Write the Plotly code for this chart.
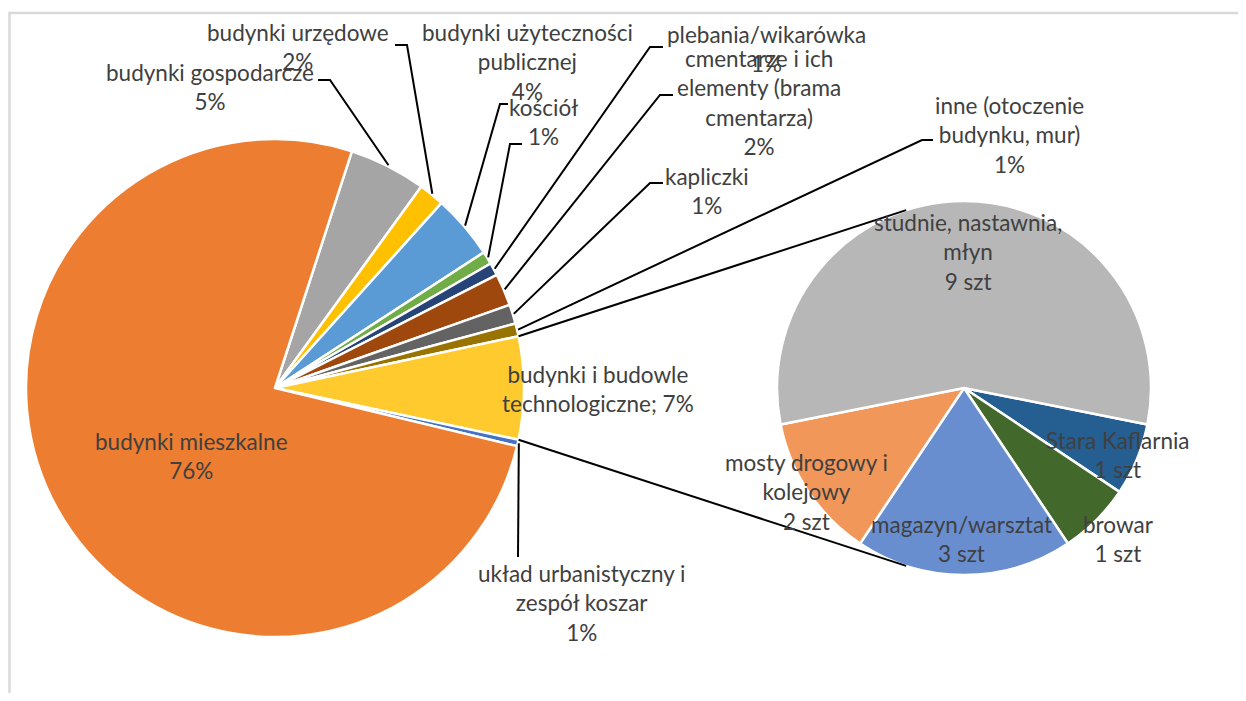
import math
import textwrap
import plotly.graph_objects as go

# ---------------- data ----------------
main_labels = [
    "budynki gospodarcze",
    "budynki urzędowe",
    "budynki użyteczności publicznej",
    "kościół",
    "plebania/wikarówka",
    "cmentarze i ich elementy (brama cmentarza)",
    "kapliczki",
    "inne (otoczenie budynku, mur)",
    "budynki i budowle technologiczne",
    "układ urbanistyczny i zespół koszar",
    "budynki mieszkalne",
]
main_values = [12, 4, 10, 2, 2, 5, 3, 2, 16, 1, 183]
main_pct_text = ["5%", "2%", "4%", "1%", "1%", "2%", "1%", "1%", "7%", "1%", "76%"]
other_index = 8  # slice that is split into the second pie

sub_labels = [
    "Stara Kaflarnia",
    "browar",
    "magazyn/warsztat",
    "mosty drogowy i kolejowy",
    "studnie, nastawnia, młyn",
]
sub_values = [1, 1, 3, 2, 9]
sub_unit = "szt"

# ---------------- layout / style ----------------
W, H = 1246, 701          # window size (reference pixel space)
OFF = 8                   # page body margin
FW, FH = W - 2 * OFF, H - 2 * OFF
MAIN_C, MAIN_R = (275, 388), 249
SUB_C, SUB_R = (964, 388), 187

main_colors = ["#A5A5A5", "#FFC000", "#5B9BD5", "#70AD47", "#264478", "#9E480E",
               "#636363", "#997300", "#FFCA2E", "#4472C4", "#ED7D31"]
sub_colors = ["#255E91", "#43682B", "#698ED0", "#F1975A", "#B7B7B7"]

FONT = "Lato"
FSIZE = 22.5
TXT = "#404040"

# label block centres (px) and wrap widths (characters)
main_label_pos = [(210, 87), (298, 47), (527, 62), (543, 122), (766, 49), (759, 103),
                  (707, 191), (1010, 135), (598, 389), (581, 603), (191, 456)]
main_wrap = [30, 30, 20, 30, 30, 15, 30, 15, 18, 21, 30]
# leader line: elbow point, end point (px); None = no leader
main_leader = [((330, 80), (318, 80)), ((407, 45), (395, 45)), ((500, 104), (508, 104)),
               ((510, 144), (522, 144)), ((650, 47), (663, 47)), ((660, 95), (673, 95)),
               ((650, 183), (663, 183)), ((922, 140), (933, 140)), None,
               ((518, 557), (518, 557)), None]
sub_label_pos = [(1118, 455), (1118, 539), (961, 539), (806, 492), (968, 252)]
sub_wrap = [30, 30, 30, 15, 19]


def px2paper(x, y):
    return (x - OFF) / FW, 1 - (y - OFF) / FH


def domain(c, r):
    x0, y1 = px2paper(c[0] - r, c[1] - r)
    x1, y0 = px2paper(c[0] + r, c[1] + r)
    return dict(x=[x0, x1], y=[y0, y1])


def pt(c, r, ang):
    a = math.radians(ang)
    return c[0] + r * math.sin(a), c[1] - r * math.cos(a)


main_total = sum(main_values)
main_unit = 360 / main_total
main_rot = 90 - (sum(main_values[:other_index]) + main_values[other_index] / 2) * main_unit
sub_total = sum(sub_values)
sub_unit_ang = 360 / sub_total
sub_rot = sub_values[-1] / 2 * sub_unit_ang

fig = go.Figure()
fig.add_trace(go.Pie(
    labels=main_labels, values=main_values, sort=False, direction="clockwise",
    rotation=main_rot, domain=domain(MAIN_C, MAIN_R), textinfo="none",
    marker=dict(colors=main_colors, line=dict(color="white", width=2.5)),
    showlegend=False, hoverinfo="label+percent"))
fig.add_trace(go.Pie(
    labels=sub_labels, values=sub_values, sort=False, direction="clockwise",
    rotation=sub_rot, domain=domain(SUB_C, SUB_R), textinfo="none",
    marker=dict(colors=sub_colors, line=dict(color="white", width=2.5)),
    showlegend=False, hoverinfo="label+value"))

shapes = []
annotations = []
LINE = dict(color="#000000", width=2)

# labels + leader lines for main pie
cum = 0
starts = []
for i, (lab, v, pct) in enumerate(zip(main_labels, main_values, main_pct_text)):
    start = main_rot + cum * main_unit
    starts.append(start)
    mid = start + v / 2 * main_unit
    cum += v
    if i == other_index:
        text = "<br>".join(textwrap.wrap(f"{lab}; {pct}", main_wrap[i]))
    else:
        text = "<br>".join(textwrap.wrap(lab, main_wrap[i]) + [pct])
    x, y = px2paper(*main_label_pos[i])
    annotations.append(dict(x=x, y=y, xref="paper", yref="paper", text=text,
                            showarrow=False, xanchor="center", yanchor="middle",
                            font=dict(family=FONT, size=FSIZE, color=TXT)))
    if main_leader[i] is not None:
        sx, sy = pt(MAIN_C, MAIN_R + 1, mid)
        (ex, ey), (fx, fy) = main_leader[i]
        path = "M {} {} L {} {} L {} {}".format(*px2paper(sx, sy), *px2paper(ex, ey), *px2paper(fx, fy))
        shapes.append(dict(type="path", xref="paper", yref="paper", path=path, line=LINE))

# connector lines between the pies (tangent to the second pie)
a_top = starts[other_index]
a_bot = a_top + main_values[other_index] * main_unit
for ang, sign in ((a_top, 1), (a_bot, -1)):
    P = pt(MAIN_C, MAIN_R, ang)
    dx, dy = P[0] - SUB_C[0], P[1] - SUB_C[1]
    dist = math.hypot(dx, dy)
    th = math.atan2(dy, dx) + sign * math.acos(SUB_R / dist)
    T = (SUB_C[0] + SUB_R * math.cos(th), SUB_C[1] + SUB_R * math.sin(th))
    x0, y0 = px2paper(*P)
    x1, y1 = px2paper(*T)
    shapes.append(dict(type="line", xref="paper", yref="paper", x0=x0, y0=y0, x1=x1, y1=y1, line=LINE))

# labels for second pie
for i, (lab, v) in enumerate(zip(sub_labels, sub_values)):
    text = "<br>".join(textwrap.wrap(lab, sub_wrap[i]) + [f"{v} {sub_unit}"])
    x, y = px2paper(*sub_label_pos[i])
    annotations.append(dict(x=x, y=y, xref="paper", yref="paper", text=text,
                            showarrow=False, xanchor="center", yanchor="middle",
                            font=dict(family=FONT, size=FSIZE, color=TXT)))

# chart-area frame (left and top edges visible)
fx0, fy0 = px2paper(9.5, 13)
fx1, fy1 = px2paper(W + 20, H + 20)
shapes.append(dict(type="rect", xref="paper", yref="paper", x0=fx0, y0=fy1, x1=fx1, y1=fy0,
                   line=dict(color="#D9D9D9", width=2.5), layer="below"))

fig.update_layout(width=FW, height=FH, margin=dict(l=0, r=0, t=0, b=0),
                  paper_bgcolor="white", plot_bgcolor="white",
                  shapes=shapes, annotations=annotations,
                  font=dict(family=FONT, size=FSIZE, color=TXT))
fig.write_html("out.html")
